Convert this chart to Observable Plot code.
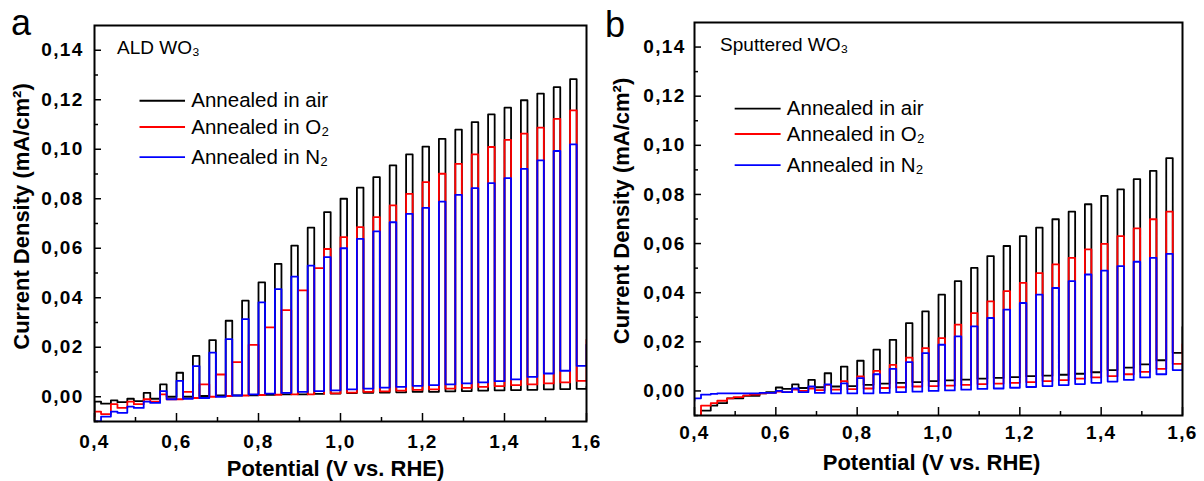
<!DOCTYPE html>
<html><head><meta charset="utf-8">
<script src="https://cdn.jsdelivr.net/npm/d3@7"></script>
<script src="https://cdn.jsdelivr.net/npm/@observablehq/plot@0.6"></script>
<style>
body{margin:0;background:#fff;}
#wrap{position:relative;width:1204px;height:481px;overflow:hidden;background:#fff;font-family:"Liberation Sans",Arial,sans-serif;}
.panel{position:absolute;top:0;}
.letter{position:absolute;font-size:36px;line-height:40px;font-family:"Liberation Sans",Arial,sans-serif;}
g[aria-label="y-axis tick label"] text, g[aria-label="x-axis tick label"] text{letter-spacing:1.3px;}
</style></head><body><div id="wrap"></div>
<script>
// ---- data ----
// start potential of each light-on period (V vs. RHE)
const potentials = [0.40,0.44,0.48,0.52,0.56,0.60,0.64,0.68,0.72,0.76,0.80,0.84,0.88,0.92,0.96,1.00,1.04,1.08,1.12,1.16,1.20,1.24,1.28,1.32,1.36,1.40,1.44,1.48,1.52,1.56,1.60];
const lightOnSpan = 0.016;
// panel a, O2 sample: its light periods below 0.96 V fall between the other samples' ones
const aO2OnStart = [0.40,0.44,0.48,0.52,0.56,0.616,0.656,0.696,0.736,0.776,0.816,0.856,0.896,0.936,0.96,1.00,1.04,1.08,1.12,1.16,1.20,1.24,1.28,1.32,1.36,1.40,1.44,1.48,1.52,1.56,1.60];
const aO2OnEnd   = [0.416,0.456,0.496,0.536,0.576,0.64,0.68,0.72,0.76,0.80,0.84,0.88,0.92,0.96,0.976,1.016,1.056,1.096,1.136,1.176,1.216,1.256,1.296,1.336,1.376,1.416,1.456,1.496,1.536,1.576,1.616];
const seriesNames = ["Annealed in air", "Annealed in O\u2082", "Annealed in N\u2082"];
const seriesColors = ["#000000", "#ff0000", "#0000ff"];

// Panel a: ALD WO3  (current density, mA/cm2)
const aStart = [-0.008, -0.011, -0.016];
const aAirLight = [-0.002,-0.0015,-0.0008,0.0016,0.005,0.0097,0.0165,0.0229,0.0307,0.0388,0.0462,0.0537,0.0611,0.0683,0.0746,0.0800,0.0845,0.0887,0.0935,0.0979,0.1011,0.1042,0.1079,0.1110,0.1141,0.1168,0.1198,0.1225,0.1251,0.1283,0.004];
const aAirDark  = [-0.0028,-0.0022,-0.0018,-0.0008,0.0,0.0,0.0003,0.0005,0.0005,0.0006,0.0008,0.001,0.001,0.0012,0.0013,0.0015,0.0016,0.0017,0.0018,0.002,0.002,0.0022,0.0023,0.0025,0.0026,0.0027,0.0028,0.003,0.0031,0.0032,0.003];
const aO2Light  = [-0.006,-0.003,-0.002,-0.001,0.001,0.002,0.005,0.009,0.014,0.021,0.028,0.035,0.043,0.052,0.0597,0.0645,0.0685,0.0726,0.0773,0.0820,0.0867,0.0901,0.0941,0.0979,0.1009,0.1038,0.1063,0.1087,0.1123,0.1157,0.023];
const aO2Dark   = [-0.007,-0.0045,-0.003,-0.002,-0.001,-0.0005,0.0,0.0003,0.0005,0.0007,0.0008,0.001,0.001,0.0012,0.0014,0.0017,0.002,0.0022,0.0025,0.0028,0.003,0.0033,0.0036,0.004,0.0043,0.0047,0.005,0.0054,0.0058,0.0064,0.007];
const aN2Light  = [-0.010,-0.006,-0.004,-0.002,0.0023,0.0064,0.0124,0.0178,0.0233,0.0314,0.0381,0.0435,0.0485,0.0530,0.0564,0.0600,0.0638,0.0668,0.0705,0.0739,0.0763,0.0788,0.0816,0.0843,0.0863,0.0883,0.0921,0.0955,0.0993,0.1020,0.021];
const aN2Dark   = [-0.008,-0.0065,-0.0045,-0.0025,-0.001,-0.0008,-0.0005,0.0,0.0005,0.001,0.0013,0.0016,0.002,0.0023,0.0026,0.003,0.0033,0.0037,0.004,0.0044,0.0047,0.005,0.0054,0.0058,0.0063,0.007,0.008,0.0094,0.0105,0.0125,0.013];

// Panel b: Sputtered WO3
const bStart = [-0.016, -0.014, -0.004];
const bAirLight = [-0.012,-0.006,-0.003,-0.002,-0.001,0.0014,0.0027,0.0045,0.0072,0.0099,0.0123,0.0168,0.0208,0.0276,0.0324,0.0392,0.0447,0.0501,0.0549,0.0590,0.0630,0.0665,0.0699,0.0730,0.0760,0.0794,0.0821,0.0862,0.0896,0.0948,0.026];
const bAirDark  = [-0.008,-0.005,-0.003,-0.002,-0.0005,0.0008,0.0012,0.0015,0.0018,0.002,0.0025,0.003,0.0033,0.0036,0.004,0.0043,0.0046,0.005,0.0053,0.0056,0.006,0.0062,0.0066,0.007,0.0076,0.0085,0.0095,0.0108,0.0125,0.0155,0.016];
const bO2Light  = [-0.011,-0.005,-0.003,-0.0018,-0.001,-0.0003,0.0005,0.001,0.0025,0.004,0.0059,0.0082,0.0106,0.0136,0.0174,0.0215,0.0270,0.0317,0.0365,0.0406,0.0440,0.0480,0.0515,0.0542,0.0576,0.0599,0.0630,0.0662,0.0699,0.0730,0.019];
const bO2Dark   = [-0.006,-0.004,-0.0025,-0.0015,-0.0008,-0.0005,0.0,0.0003,0.0005,0.0007,0.001,0.0012,0.0015,0.0018,0.002,0.0022,0.0025,0.0028,0.003,0.0033,0.0036,0.004,0.0044,0.005,0.0055,0.006,0.0068,0.0078,0.009,0.011,0.012];
const bN2Light  = [-0.003,-0.0012,-0.001,-0.001,-0.0008,0.0,0.001,0.0018,0.0027,0.0031,0.0052,0.0068,0.009,0.0117,0.0154,0.0188,0.0222,0.0263,0.0297,0.0331,0.0358,0.0392,0.0419,0.0447,0.0474,0.0490,0.0508,0.0526,0.0542,0.0558,0.011];
const bN2Dark   = [-0.0015,-0.001,-0.001,-0.001,-0.0008,-0.0005,-0.0005,-0.0008,-0.001,-0.001,-0.001,-0.0008,-0.0005,-0.0003,0.0,0.0002,0.0005,0.0008,0.001,0.0013,0.0016,0.002,0.0024,0.0028,0.0033,0.0038,0.0045,0.0055,0.0068,0.0085,0.011];

// axis ticks
const xTicks = [0.4,0.6,0.8,1.0,1.2,1.4,1.6];
const xMinorTicks = [0.5,0.7,0.9,1.1,1.3,1.5];
const yTicks = [0,0.02,0.04,0.06,0.08,0.10,0.12,0.14];
const yMinorTicks = [-0.01,0.01,0.03,0.05,0.07,0.09,0.11,0.13];

// ---- drawing ----
const defaultOnEnd = potentials.map(p => p + lightOnSpan);
function buildTrace(s) {
  const onStart = s.onStart || potentials, onEnd = s.onEnd || defaultOnEnd;
  const pts = [{x: onStart[0], y: s.start}];
  let prev = s.start;
  onStart.forEach((p, k) => {
    pts.push({x: p, y: prev}, {x: p, y: s.light[k]}, {x: onEnd[k], y: s.light[k]}, {x: onEnd[k], y: s.dark[k]});
    prev = s.dark[k];
  });
  return pts;
}
const fmtY = d => d.toFixed(2).replace(".", ",");
const fmtX = d => d.toFixed(1).replace(".", ",");

function drawPanel(cfg) {
  const traces = cfg.series.map((s, i) => ({color: seriesColors[i], pts: buildTrace(s)}));
  const legendRows = seriesNames.map((name, i) => ({name, color: seriesColors[i], y: cfg.legendY[i]}));
  const marks = [];
  traces.forEach(t => marks.push(Plot.line(t.pts, {x: "x", y: "y", stroke: t.color, strokeWidth: 1.8, clip: true})));
  marks.push(
    Plot.frame({stroke: "black", strokeWidth: 2}),
    Plot.axisY(yTicks, {tickSize: -7, tickPadding: cfg.padY, tickFormat: fmtY, label: null, strokeWidth: 1.5, fontSize: 19}),
    Plot.axisY(yMinorTicks, {tickSize: -4, tickFormat: () => "", label: null, strokeWidth: 1.5}),
    Plot.axisX(xTicks, {tickSize: -8, tickPadding: cfg.padX, tickFormat: fmtX, label: null, strokeWidth: 1.5, fontSize: 19}),
    Plot.axisX(xMinorTicks, {tickSize: -4, tickFormat: () => "", label: null, strokeWidth: 1.5})
  );
  legendRows.forEach(r => {
    marks.push(Plot.ruleY([r], {y: "y", x1: cfg.legendX1, x2: cfg.legendX2, stroke: r.color, strokeWidth: 1.8}));
    marks.push(Plot.text([r], {x: cfg.legendTextX, y: "y", text: "name", textAnchor: "start", fontSize: 20.5, fontWeight: "normal", fill: "black"}));
  });
  marks.push(Plot.text([cfg.note], {x: cfg.noteX, y: cfg.noteY, textAnchor: "start", fontSize: 19, fontWeight: "normal", fill: "black"}));
  marks.push(Plot.text(["Potential (V vs. RHE)"], {frameAnchor: "bottom", textAnchor: "middle", lineAnchor: "middle", dx: cfg.xTitleDx, dy: cfg.xTitleDy, fontSize: 22, fontWeight: "bold", fill: "black"}));
  marks.push(Plot.text(["Current Density (mA/cm\u00b2)"], {frameAnchor: "left", textAnchor: "middle", lineAnchor: "middle", rotate: -90, dx: -73, dy: cfg.yTitleDy, fontSize: 22, fontWeight: "bold", fill: "black"}));
  return Plot.plot({
    width: cfg.width, height: 481,
    marginLeft: 94, marginRight: cfg.marginRight, marginTop: cfg.marginTop, marginBottom: cfg.marginBottom,
    x: {domain: [0.4, 1.6]},
    y: {domain: [-0.01, 0.15]},
    style: {fontFamily: "'Liberation Sans', Arial, sans-serif", fontSize: "18px", fontWeight: "bold", color: "black", background: "white", overflow: "visible"},
    marks
  });
}

const wrap = document.getElementById("wrap");
const pa = drawPanel({
  width: 600, marginRight: 14, marginTop: 25, marginBottom: 60,
  padX: 21, padY: 18,
  series: [
    {start: aStart[0], light: aAirLight, dark: aAirDark},
    {start: aStart[1], light: aO2Light, dark: aO2Dark, onStart: aO2OnStart, onEnd: aO2OnEnd},
    {start: aStart[2], light: aN2Light, dark: aN2Dark}
  ],
  legendY: [0.1196, 0.1090, 0.0968], legendX1: 0.511, legendX2: 0.622, legendTextX: 0.636,
  note: "ALD WO\u2083", noteX: 0.455, noteY: 0.141,
  xTitleDx: -5, xTitleDy: 47, yTitleDy: -7
});
const pb = drawPanel({
  width: 604, marginRight: 22, marginTop: 22, marginBottom: 66,
  padX: 18, padY: 16,
  series: [
    {start: bStart[0], light: bAirLight, dark: bAirDark},
    {start: bStart[1], light: bO2Light, dark: bO2Dark},
    {start: bStart[2], light: bN2Light, dark: bN2Dark}
  ],
  legendY: [0.1149, 0.1046, 0.0919], legendX1: 0.500, legendX2: 0.613, legendTextX: 0.627,
  note: "Sputtered WO\u2083", noteX: 0.463, noteY: 0.141,
  xTitleDx: -7, xTitleDy: 47, yTitleDy: -8
});
pa.classList.add("panel"); pa.style.left = "0px";
pb.classList.add("panel"); pb.style.left = "600px";
wrap.append(pa, pb);
for (const [t, l, top] of [["a", 11, 3], ["b", 605, 5]]) {
  const d = document.createElement("div");
  d.className = "letter"; d.textContent = t; d.style.left = l + "px"; d.style.top = top + "px";
  wrap.append(d);
}
</script></body></html>
